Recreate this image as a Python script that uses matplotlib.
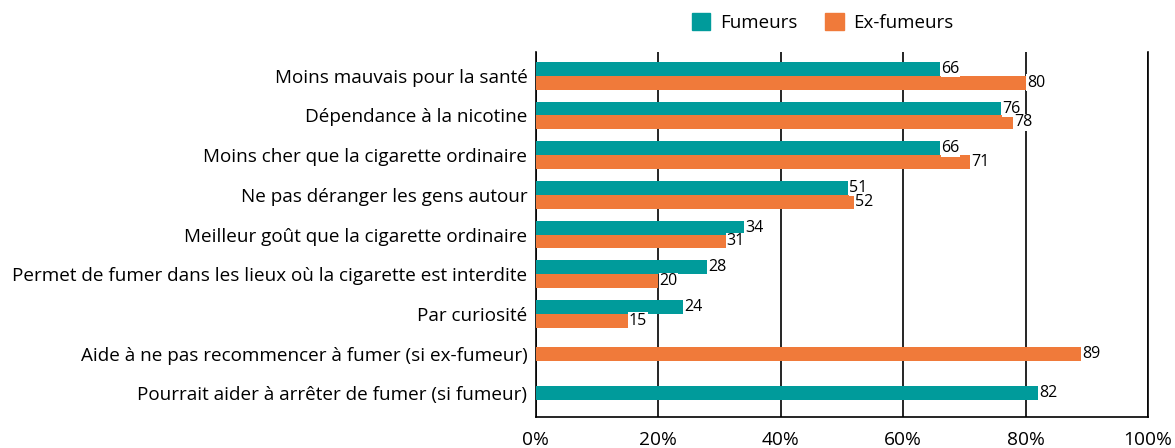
import numpy as np
import matplotlib.pyplot as plt
from matplotlib.patches import Patch

# Données
categories = [
    "Moins mauvais pour la santé",
    "Dépendance à la nicotine",
    "Moins cher que la cigarette ordinaire",
    "Ne pas déranger les gens autour",
    "Meilleur goût que la cigarette ordinaire",
    "Permet de fumer dans les lieux où la cigarette est interdite",
    "Par curiosité",
    "Aide à ne pas recommencer à fumer (si ex-fumeur)",
    "Pourrait aider à arrêter de fumer (si fumeur)",
]
fumeurs = [66, 76, 66, 51, 34, 28, 24, None, 82]
ex_fumeurs = [80, 78, 71, 52, 31, 20, 15, 89, None]
xticks = [0, 20, 40, 60, 80, 100]

teal = "#009b9b"
orange = "#f07a3a"

plt.rcParams['font.family'] = ['Open Sans', 'DejaVu Sans']

fig = plt.figure(figsize=(11.75, 4.48), dpi=100)
ax = fig.add_axes([0.456, 0.069, 0.521, 0.815])

h = 0.35
for i, (f, e) in enumerate(zip(fumeurs, ex_fumeurs)):
    if f is not None and e is not None:
        yf, ye = i - h / 2, i + h / 2
    else:
        yf = ye = i
    if f is not None:
        ax.barh(yf, f, height=h, color=teal, zorder=3)
        ax.text(f + 0.2, yf, str(f), va="center", ha="left", fontsize=11.5,
                zorder=4, bbox=dict(facecolor="white", edgecolor="none", pad=0.3))
    if e is not None:
        ax.barh(ye, e, height=h, color=orange, zorder=3)
        ax.text(e + 0.2, ye, str(e), va="center", ha="left", fontsize=11.5,
                zorder=4, bbox=dict(facecolor="white", edgecolor="none", pad=0.3))

ax.set_xlim(0, 100)
ax.set_ylim(8.6, -0.6)
ax.set_yticks(range(len(categories)))
ax.set_yticklabels(categories, fontsize=13.55)
ax.set_xticks(xticks)
ax.set_xticklabels([f"{t}%" for t in xticks], fontsize=13.8)
ax.tick_params(axis="x", length=0, pad=10)
ax.tick_params(axis="y", length=0, pad=6)
ax.grid(axis="x", color="black", linewidth=1.2, zorder=1)
ax.spines["top"].set_visible(False)
for s in ["left", "right", "bottom"]:
    ax.spines[s].set_color("black")
    ax.spines[s].set_linewidth(1.2)

handles = [Patch(color=teal, label="Fumeurs"), Patch(color=orange, label="Ex-fumeurs")]
fig.legend(handles=handles, loc="center", bbox_to_anchor=(0.70, 0.95), ncol=2,
           frameon=False, fontsize=13.5, handlelength=1.0, handleheight=1.0,
           columnspacing=1.5, handletextpad=0.5)

fig.savefig("out.png", dpi=100)
